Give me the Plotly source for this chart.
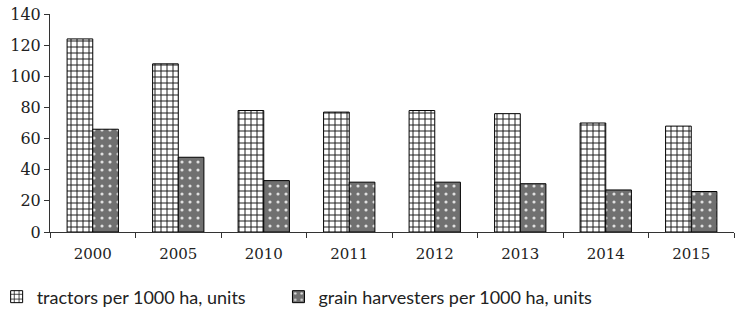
import plotly.graph_objects as go

years = ["2000", "2005", "2010", "2011", "2012", "2013", "2014", "2015"]
tractors = [124, 108, 78, 77, 78, 76, 70, 68]
harvesters = [66, 48, 33, 32, 32, 31, 27, 26]
y_ticks = [0, 20, 40, 60, 80, 100, 120, 140]

fig = go.Figure()
fig.add_trace(go.Bar(
    x=years, y=tractors, name="tractors per 1000 ha, units", legend="legend",
    marker=dict(color="white", line=dict(color="black", width=1),
                pattern=dict(shape="+", fillmode="replace", fgcolor="#1a1a1a",
                             bgcolor="white", size=6, solidity=0.3)),
))
fig.add_trace(go.Bar(
    x=years, y=harvesters, name="grain harvesters per 1000 ha, units", legend="legend2",
    marker=dict(color="#707070", line=dict(color="black", width=1),
                pattern=dict(shape=".", fillmode="replace", fgcolor="#e0e0e0",
                             bgcolor="#707070", size=8, solidity=0.12)),
))

legend_font = dict(family="Lato", size=18, color="#222")
fig.update_layout(
    width=738, height=309,
    margin=dict(l=50, r=4, t=14, b=77, autoexpand=False),
    paper_bgcolor="white", plot_bgcolor="white",
    barmode="group", bargap=0.4, bargroupgap=0,
    showlegend=True,
    legend=dict(orientation="h", x=-0.078, xanchor="left",
                y=-0.298, yanchor="middle",
                font=legend_font, itemwidth=30),
    legend2=dict(orientation="h", x=0.334, xanchor="left",
                 y=-0.298, yanchor="middle",
                 font=legend_font, itemwidth=30),
    font=dict(family="DejaVu Serif", size=15, color="#222"),
)
fig.update_xaxes(
    type="category", showline=True, linecolor="#333", linewidth=1,
    ticks="outside", tickson="boundaries", ticklen=5, tickcolor="#333",
    showgrid=False, automargin=False, ticklabelstandoff=8,
    tickfont=dict(family="DejaVu Serif", size=15, color="#222"),
)
fig.update_yaxes(
    range=[0, 140], tickvals=y_ticks, showline=True, linecolor="#333", linewidth=1,
    ticks="outside", ticklen=5, tickcolor="#333", showgrid=False, zeroline=False,
    automargin=False,
    tickfont=dict(family="DejaVu Serif", size=16, color="#222"),
)

fig.write_html("out.html", config={"displayModeBar": False},
               post_script="document.body.style.margin='0px';")
